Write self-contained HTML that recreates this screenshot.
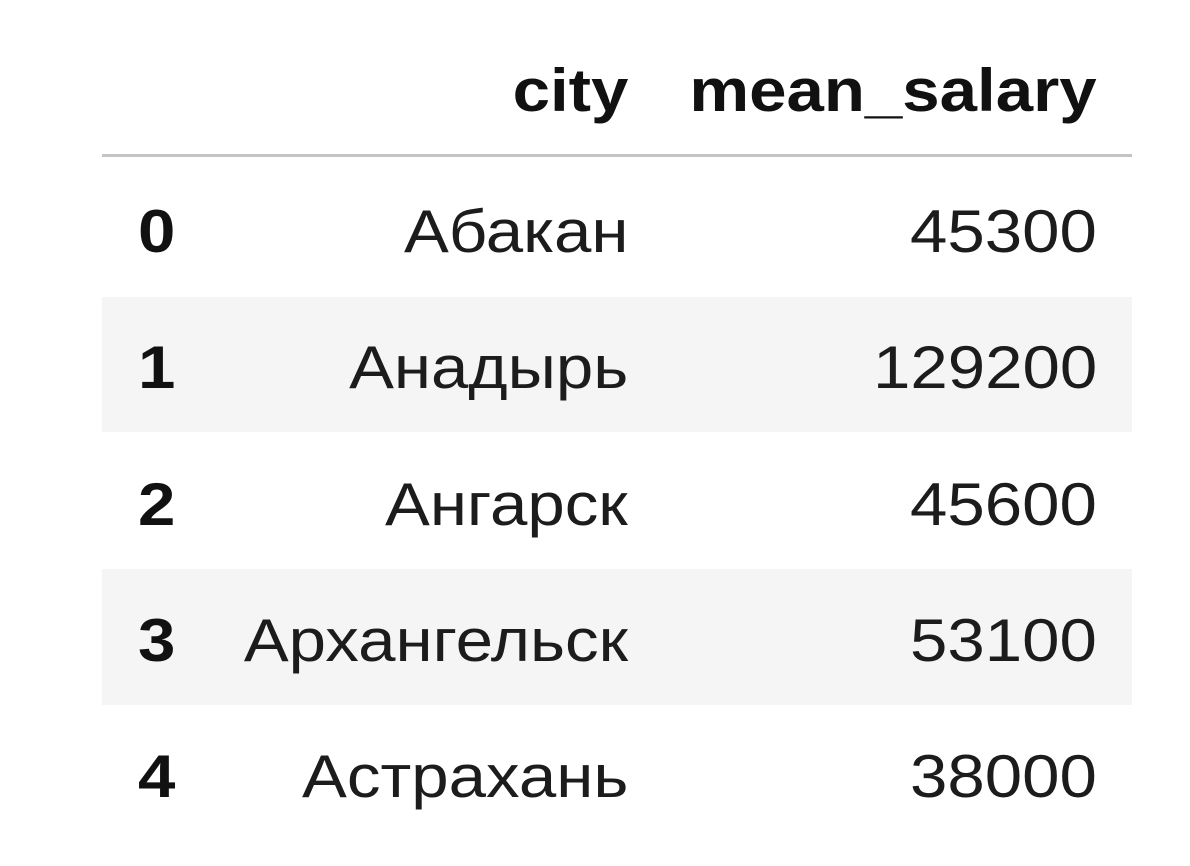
<!DOCTYPE html>
<html><head><meta charset="utf-8"><style>
body{margin:0;background:#fff;width:1190px;height:866px;position:relative;overflow:hidden;font-family:"Liberation Sans",Arial,sans-serif;color:#1c1c1c}
.t{position:absolute;font-size:60px;line-height:60px;white-space:nowrap;transform:scaleX(1.12);transform-origin:right center}
.b{font-weight:bold;color:#111}
.r{text-align:right}
.band{position:absolute;left:102px;width:1030px;background:#f5f5f5}
</style></head><body>
<div style="position:absolute;left:102px;top:154px;width:1030px;height:3px;background:#c4c4c4"></div>
<div class="band" style="top:297px;height:135px"></div>
<div class="band" style="top:569px;height:136px"></div>
<div class="t b r" style="right:562px;top:61px">city</div>
<div class="t b r" style="right:93px;top:61px">mean_salary</div>
<div id="rows"></div>
<script>
const idx=["0","1","2","3","4"];
const cities=["Абакан","Анадырь","Ангарск","Архангельск","Астрахань"];
const salaries=[45300,129200,45600,53100,38000];
const rows=document.getElementById('rows');
idx.forEach((v,i)=>{
  const top=202+i*136.3;
  const a=document.createElement('div');a.className='t b r';a.style.right='1015px';a.style.top=top+'px';a.textContent=v;
  
  
  const c=document.createElement('div');c.className='t r';c.style.right='562px';c.style.top=top+'px';c.textContent=cities[i];
  
  
  const s=document.createElement('div');s.className='t r';s.style.right='93px';s.style.top=top+'px';s.textContent=salaries[i];
  
  
  rows.appendChild(a);rows.appendChild(c);rows.appendChild(s);
});
</script>
</body></html>
